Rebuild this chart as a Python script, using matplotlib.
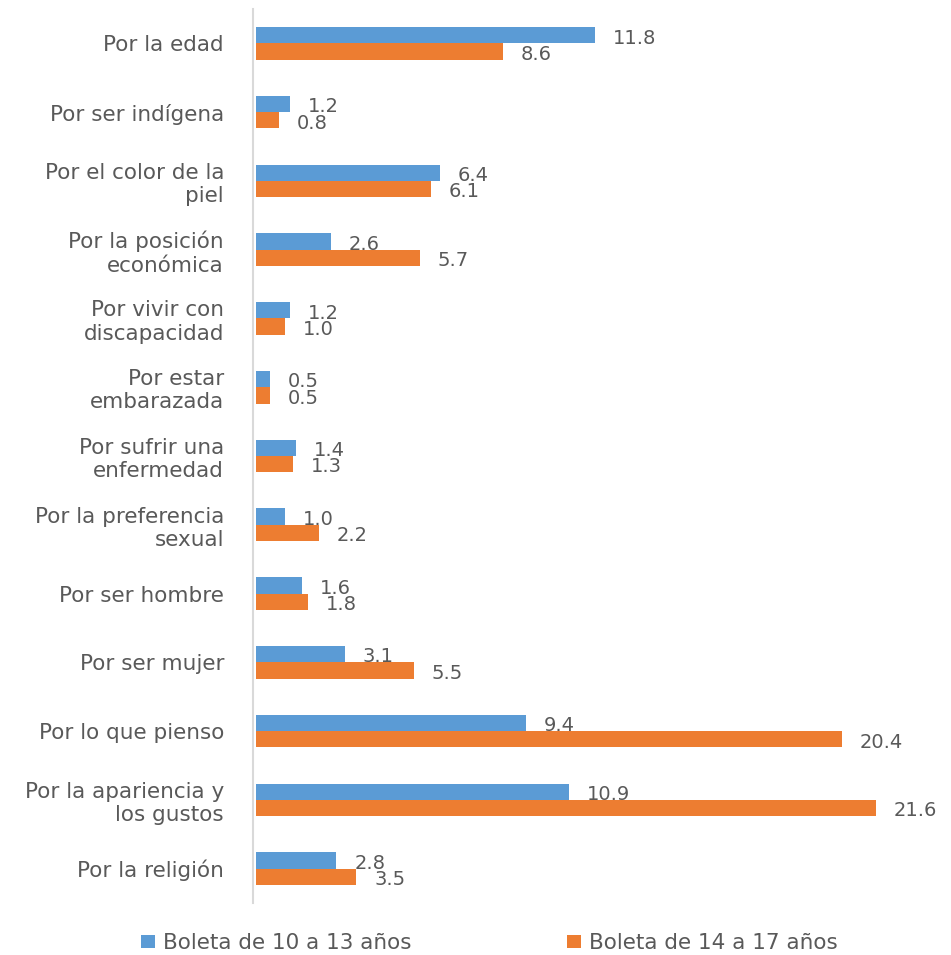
import matplotlib

matplotlib.use("Agg")
import matplotlib.pyplot as plt
import numpy as np
from matplotlib.patches import Patch

# Categories top to bottom
CATEGORIES = [
    "Por la edad",
    "Por ser indígena",
    "Por el color de la\npiel",
    "Por la posición\neconómica",
    "Por vivir con\ndiscapacidad",
    "Por estar\nembarazada",
    "Por sufrir una\nenfermedad",
    "Por la preferencia\nsexual",
    "Por ser hombre",
    "Por ser mujer",
    "Por lo que pienso",
    "Por la apariencia y\nlos gustos",
    "Por la religión",
]
BOLETA_10_13 = [11.8, 1.2, 6.4, 2.6, 1.2, 0.5, 1.4, 1.0, 1.6, 3.1, 9.4, 10.9, 2.8]
BOLETA_14_17 = [8.6, 0.8, 6.1, 5.7, 1.0, 0.5, 1.3, 2.2, 1.8, 5.5, 20.4, 21.6, 3.5]
SERIES_NAMES = ["Boleta de 10 a 13 años", "Boleta de 14 a 17 años"]

BLUE = "#5B9BD5"
ORANGE = "#ED7D31"
TEXT = "#595959"

plt.rcParams["font.family"] = ["DejaVu Sans"]

fig = plt.figure(figsize=(9.51, 9.55), dpi=100, facecolor="white")
ax = fig.add_axes([256 / 951, 1 - 903 / 955, 646 / 951, 894 / 955])

y = np.arange(len(CATEGORIES))
h = 0.237

bars_a = ax.barh(y - h / 2, BOLETA_10_13, height=h, color=BLUE)
bars_b = ax.barh(y + h / 2, BOLETA_14_17, height=h, color=ORANGE)

# value labels to the right of each bar
for bars, vals in [(bars_a, BOLETA_10_13), (bars_b, BOLETA_14_17)]:
    for bar, v in zip(bars, vals):
        ax.annotate(
            f"{v:.1f}",
            xy=(bar.get_width(), bar.get_y() + bar.get_height() / 2),
            xytext=(12.8, -6.0),
            textcoords="offset points",
            ha="left",
            va="baseline",
            fontsize=14,
            color=TEXT,
            annotation_clip=False,
        )

ax.set_xlim(0, 22.5)
ax.set_ylim(len(CATEGORIES) - 0.5, -0.5)

ax.tick_params(axis="y", length=0, pad=21, labelsize=15.5, labelcolor=TEXT)
ax.set_yticks(y)
ax.set_yticklabels(CATEGORIES, linespacing=1.35, multialignment="center")
ax.set_xticks([])

for side in ["top", "right", "bottom"]:
    ax.spines[side].set_visible(False)
ax.spines["left"].set_color("#D9D9D9")
ax.spines["left"].set_linewidth(1.5)
ax.spines["left"].set_position(("outward", 2))

# legend: two entries at the bottom
for name, col, x0 in [(SERIES_NAMES[0], BLUE, 141), (SERIES_NAMES[1], ORANGE, 567)]:
    fig.legend(
        handles=[Patch(facecolor=col)],
        labels=[name],
        loc="center left",
        bbox_to_anchor=(x0 / 951, 1 - 943 / 955),
        frameon=False,
        fontsize=15.5,
        labelcolor=TEXT,
        handlelength=0.65,
        handleheight=0.55,
        handletextpad=0.37,
        borderpad=0,
        borderaxespad=0,
    )

fig.savefig("out.png", dpi=100, facecolor="white")
plt.close(fig)
